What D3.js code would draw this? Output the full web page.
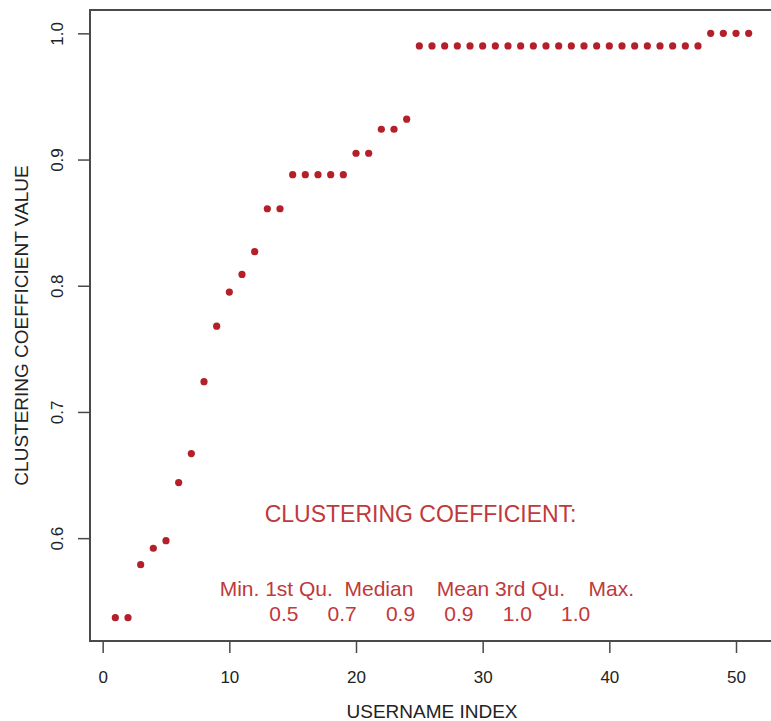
<!DOCTYPE html>
<html>
<head>
<meta charset="utf-8">
<script src="https://cdn.jsdelivr.net/npm/d3@7"></script>
<style>
  body { margin: 0; background: #fff; }
  svg { display: block; font-family: "Liberation Sans", Arial, Helvetica, sans-serif; }
  .note { white-space: pre; }
</style>
</head>
<body>
<div id="chart"></div>
<script>
var width = 771,
    height = 721;

// clustering coefficient per username, sorted
var values = [0.537, 0.537, 0.579, 0.592, 0.598, 0.644, 0.667, 0.724, 0.768, 0.795,
              0.809, 0.827, 0.861, 0.861, 0.888, 0.888, 0.888, 0.888, 0.888, 0.905,
              0.905, 0.924, 0.924, 0.932, 0.990, 0.990, 0.990, 0.990, 0.990, 0.990,
              0.990, 0.990, 0.990, 0.990, 0.990, 0.990, 0.990, 0.990, 0.990, 0.990,
              0.990, 0.990, 0.990, 0.990, 0.990, 0.990, 0.990, 1.000, 1.000, 1.000,
              1.000];

var xTicks = [0, 10, 20, 30, 40, 50],
    yTicks = [0.6, 0.7, 0.8, 0.9, 1.0];

var summaryLabels = ["Min.", "1st Qu.", "Median", "Mean", "3rd Qu.", "Max."],
    summaryValues = ["0.5", "0.7", "0.9", "0.9", "1.0", "1.0"];

var pointColor = "#b3202a",
    textColor = "#c0393b",
    axisColor = "#4a4a4a";

var svg = d3.select("#chart").append("svg")
    .attr("width", width)
    .attr("height", height);

// R style: 4% padding around data range
var x = d3.scaleLinear().domain([-1, 53]).range([90, 774]);
var y = d3.scaleLinear().domain([0.5185, 1.0185]).range([641, 10]);

var xAxis = svg.append("g")
    .attr("transform", "translate(0," + y.range()[0] + ")")
    .call(d3.axisBottom(x).tickValues(xTicks).tickSize(12).tickFormat(d3.format("d")));
xAxis.select(".domain").remove();
xAxis.selectAll("line").attr("stroke", axisColor).attr("stroke-width", 1.5);
xAxis.selectAll("text")
    .attr("y", 42)
    .attr("dy", 0)
    .attr("fill", "#222")
    .attr("font-size", 17)
    .attr("font-family", null);

var yAxis = svg.append("g")
    .attr("transform", "translate(" + x.range()[0] + ",0)")
    .call(d3.axisLeft(y).tickValues(yTicks).tickSize(12).tickFormat(d3.format(".1f")));
yAxis.select(".domain").remove();
yAxis.selectAll("line").attr("stroke", axisColor).attr("stroke-width", 1.5);
yAxis.selectAll("text")
    .attr("x", 0)
    .attr("dy", 0)
    .attr("transform", "translate(-27,0) rotate(-90)")
    .attr("text-anchor", "middle")
    .attr("fill", "#222")
    .attr("font-size", 17)
    .attr("font-family", null);

svg.append("rect")
    .attr("x", x.range()[0])
    .attr("y", y.range()[1])
    .attr("width", x.range()[1] - x.range()[0])
    .attr("height", y.range()[0] - y.range()[1])
    .attr("fill", "none")
    .attr("stroke", axisColor)
    .attr("stroke-width", 2);

svg.selectAll("circle.point")
    .data(values)
  .enter().append("circle")
    .attr("class", "point")
    .attr("cx", function(d, i) { return x(i + 1); })
    .attr("cy", function(d) { return y(d); })
    .attr("r", 3.6)
    .attr("fill", pointColor);

// axis titles
svg.append("text")
    .attr("x", (x.range()[0] + x.range()[1]) / 2)
    .attr("y", 718)
    .attr("text-anchor", "middle")
    .attr("font-size", 19)
    .attr("fill", "#222")
    .text("USERNAME INDEX");

svg.append("text")
    .attr("transform", "translate(28," + (y.range()[0] + y.range()[1]) / 2 + ") rotate(-90)")
    .attr("text-anchor", "middle")
    .attr("font-size", 19)
    .attr("fill", "#222")
    .text("CLUSTERING COEFFICIENT VALUE");

// summary printout, padded like R's print()
function pad(s) { return ("       " + s).slice(-7); }

svg.append("text")
    .attr("class", "note")
    .attr("x", x(25.1))
    .attr("y", 522)
    .attr("text-anchor", "middle")
    .attr("font-size", 23)
    .attr("fill", textColor)
    .text("CLUSTERING COEFFICIENT:");

svg.append("text")
    .attr("class", "note")
    .attr("x", x(24.9))
    .attr("y", 596)
    .attr("text-anchor", "middle")
    .attr("font-size", 21)
    .attr("fill", textColor)
    .text(summaryLabels.map(pad).join(" "));

svg.append("text")
    .attr("class", "note")
    .attr("x", x(24.9))
    .attr("y", 621)
    .attr("text-anchor", "middle")
    .attr("font-size", 21)
    .attr("fill", textColor)
    .text(summaryValues.map(pad).join(" "));
</script>
</body>
</html>
